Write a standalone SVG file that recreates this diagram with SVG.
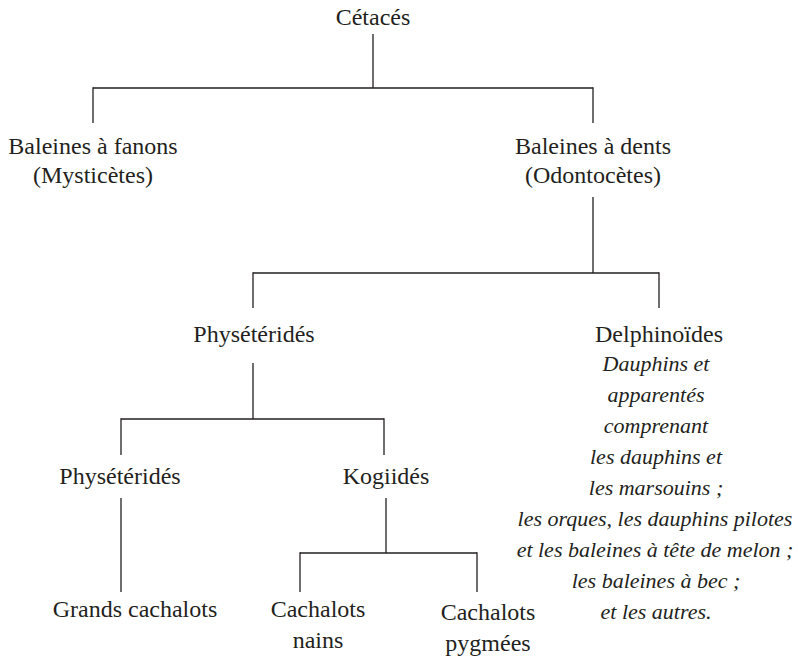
<svg xmlns="http://www.w3.org/2000/svg" width="798" height="661" viewBox="0 0 798 661">
<style>
text{font-family:"Liberation Serif","Times New Roman",serif;font-size:24px;fill:#231f20;text-anchor:middle}
.it{font-style:italic;font-size:22px}
.c line{stroke:#231f20;stroke-width:1.3;fill:none}
</style>
<rect width="798" height="661" fill="#fff"/>
<g class="c" id="connectors">
<line x1="373" y1="34" x2="373" y2="88"/>
<line x1="93" y1="88" x2="593" y2="88"/>
<line x1="93" y1="87.35" x2="93" y2="123"/>
<line x1="593" y1="87.35" x2="593" y2="123"/>
<line x1="593" y1="197" x2="593" y2="273"/>
<line x1="253" y1="273" x2="659" y2="273"/>
<line x1="253" y1="272.35" x2="253" y2="308"/>
<line x1="659" y1="272.35" x2="659" y2="308"/>
<line x1="253" y1="363" x2="253" y2="419"/>
<line x1="121" y1="419" x2="384" y2="419"/>
<line x1="121" y1="418.35" x2="121" y2="455"/>
<line x1="384" y1="418.35" x2="384" y2="455"/>
<line x1="121" y1="498" x2="121" y2="592"/>
<line x1="386" y1="498" x2="386" y2="553"/>
<line x1="300" y1="553" x2="477" y2="553"/>
<line x1="300" y1="552.35" x2="300" y2="592"/>
<line x1="477" y1="552.35" x2="477" y2="592"/>
</g>
<g id="cetaces"><text x="373" y="25">Cétacés</text></g>
<g id="mysticetes"><text x="93" y="154">Baleines à fanons</text><text x="93" y="183">(Mysticètes)</text></g>
<g id="odontocetes"><text x="593" y="154">Baleines à dents</text><text x="593" y="183">(Odontocètes)</text></g>
<g id="physeterides"><text x="254" y="342">Physétéridés</text></g>
<g id="delphinoides"><text x="659" y="342">Delphinoïdes</text>
<text class="it" x="656" y="371">Dauphins et</text>
<text class="it" x="656" y="402">apparentés</text>
<text class="it" x="656" y="433">comprenant</text>
<text class="it" x="656" y="464">les dauphins et</text>
<text class="it" x="656" y="495">les marsouins ;</text>
<text class="it" x="655" y="526">les orques, les dauphins pilotes</text>
<text class="it" x="655" y="557">et les baleines à tête de melon ;</text>
<text class="it" x="656" y="588">les baleines à bec ;</text>
<text class="it" x="656" y="619">et les autres.</text>
</g>
<g id="physeterides2"><text x="120" y="484">Physétéridés</text></g>
<g id="kogiides"><text x="386" y="484">Kogiidés</text></g>
<g id="grands"><text x="135" y="617">Grands cachalots</text></g>
<g id="nains"><text x="318" y="617">Cachalots</text><text x="318" y="648">nains</text></g>
<g id="pygmees"><text x="488" y="620">Cachalots</text><text x="488" y="651">pygmées</text></g>
</svg>
